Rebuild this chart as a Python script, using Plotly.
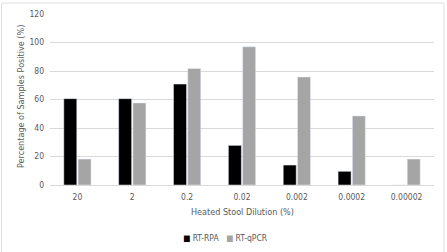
import plotly.graph_objects as go

categories = ["20", "2", "0.2", "0.02", "0.002", "0.0002", "0.00002"]
rt_rpa = [60.6, 60.6, 70.8, 27.8, 14.0, 9.6, 0]
rt_qpcr = [18.2, 57.6, 81.8, 97.0, 75.8, 48.5, 18.2]
series_names = ["RT-RPA", "RT-qPCR"]
series_colors = ["#000000", "#a5a5a5"]

W, H = 447, 252
L, R, T, B = 50, 13, 14, 67
pw, ph = W - L - R, H - T - B

def px_x(p):
    return (p - L) / pw

def px_y(p):
    return (H - B - p) / ph

font = "DejaVu Sans Condensed, Liberation Sans, sans-serif"
gray_txt = "#595959"

fig = go.Figure()
for name, vals, col in zip(series_names, [rt_rpa, rt_qpcr], series_colors):
    fig.add_trace(go.Bar(name=name, x=categories, y=vals, marker_color=col))

legend_text = "&nbsp;&nbsp;&nbsp;".join(
    f'<span style="color:{c}">■</span>&nbsp;{n}' for n, c in zip(series_names, series_colors)
)

fig.update_layout(
    width=W, height=H,
    margin=dict(l=L, r=R, t=T, b=B),
    paper_bgcolor="white", plot_bgcolor="white",
    barmode="group", bargap=0.48, bargroupgap=0.09,
    font=dict(family=font, size=9, color=gray_txt),
    showlegend=False,
    xaxis=dict(type="category", showgrid=False, showline=True, linecolor="#d9d9d9", linewidth=1,
               ticks="", tickfont=dict(size=8.5, color=gray_txt), automargin=False,
               ticklabelstandoff=4),
    yaxis=dict(range=[0, 120], dtick=20, showgrid=True, gridcolor="#d9d9d9", gridwidth=1,
               zeroline=False, showline=False, ticks="", ticklabelstandoff=5, automargin=False,
               tickfont=dict(size=8.5, color=gray_txt)),
    annotations=[
        dict(text="Heated Stool Dilution (%)", xref="paper", yref="paper",
             x=px_x(242), y=px_y(212), xanchor="center", yanchor="middle",
             showarrow=False, font=dict(size=9, color=gray_txt)),
        dict(text="Percentage of Samples Positive (%)", xref="paper", yref="paper",
             x=px_x(21), y=px_y(97), xanchor="center", yanchor="middle", textangle=-90,
             showarrow=False, font=dict(size=9, color=gray_txt)),
        dict(text=legend_text, xref="paper", yref="paper",
             x=px_x(225), y=px_y(238), xanchor="center", yanchor="middle",
             showarrow=False, font=dict(size=8.5, color=gray_txt)),
    ],
    shapes=[dict(type="rect", xref="paper", yref="paper",
                 x0=px_x(1.5), x1=px_x(444), y0=px_y(262), y1=px_y(3),
                 line=dict(color="#e0e0e0", width=1), fillcolor="rgba(0,0,0,0)", layer="below")],
)

fig.write_html("out.html")
